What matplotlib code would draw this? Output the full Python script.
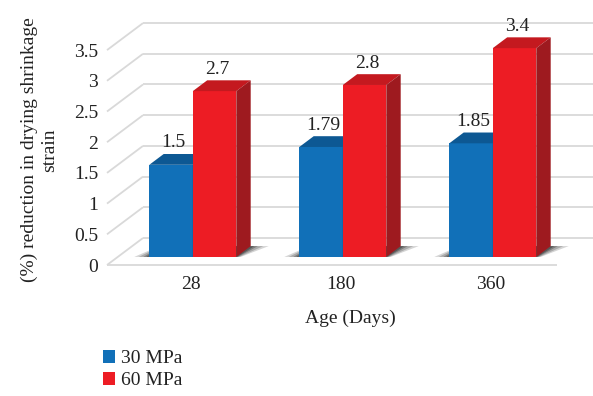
import matplotlib
matplotlib.use('Agg')
import matplotlib.pyplot as plt
from matplotlib.patches import Polygon
import numpy as np

# ---- data ----
ages = ['28', '180', '360']
series_names = ['30 MPa', '60 MPa']
mpa30 = [1.5, 1.79, 1.85]
mpa60 = [2.7, 2.8, 3.4]
yticks = [0, 0.5, 1, 1.5, 2, 2.5, 3, 3.5]
ytick_labels = ['0', '0.5', '1', '1.5', '2', '2.5', '3', '3.5']

plt.rcParams['font.family'] = ['Liberation Serif', 'DejaVu Serif']
FS = 14

W, H = 593, 396
fig = plt.figure(figsize=(W / 100, H / 100), dpi=100)
px_unit = 61.4                      # pixels per value unit
ax = fig.add_axes([107 / W, (H - 265) / H, 450 / W, 3.5 * px_unit / H])
ax.set_xlim(-0.5, 2.5)
ax.set_ylim(0, 3.5)
for s in ax.spines.values():
    s.set_visible(False)

# oblique projection of the full floor depth, in data units
DX = 36 / 150
DY = 27 / px_unit

grid_kw = dict(color='#d9d9d9', lw=1.3, clip_on=False, zorder=1,
               solid_capstyle='butt')
for v in yticks:
    ax.plot([-0.5, -0.5 + DX], [v, v + DY], **grid_kw)          # side wall
    ax.plot([-0.5 + DX, 2.5 + DX], [v + DY, v + DY], **grid_kw)  # back wall
ax.plot([-0.5, 2.5], [0, 0], **grid_kw)                        # floor edge

# bars occupy the middle of the depth
d_front, d_back = 0.3, 0.7
bw = 0.29
ox, oy = DX * d_front, DY * d_front
ddx, ddy = DX * (d_back - d_front), DY * (d_back - d_front)

x = np.arange(len(ages))
styles = [
    dict(front='#1170b8', top='#0d5893', side='#0b4a7c'),
    dict(front='#ed1c24', top='#c4191f', side='#9e1a1f'),
]

# soft floor shadows under each pair of bars
for xi in x:
    xl = xi - bw + ox
    xr = xi + bw + ox
    for e, a in [(0.10, 0.2), (0.07, 0.25), (0.04, 0.35), (0.02, 0.45)]:
        poly = Polygon([(xl - e, oy), (xr + e * 0.3, oy),
                        (xr + ddx + e * 1.2, oy + ddy), (xl + ddx - e * 0.3, oy + ddy)],
                       closed=True, facecolor='#2a2a2a', edgecolor='none',
                       alpha=a, zorder=2, clip_on=False)
        ax.add_patch(poly)

handles = []
for k, (vals, st, name) in enumerate(zip([mpa30, mpa60], styles, series_names)):
    x0 = x - bw + k * bw + ox
    z = 3 + k
    bars = ax.bar(x0, vals, width=bw, bottom=oy, align='edge',
                  color=st['front'], zorder=z, clip_on=False, label=name,
                  linewidth=0)
    handles.append(bars)
    for xb, v in zip(x0, vals):
        top = oy + v
        ax.add_patch(Polygon([(xb, top), (xb + bw, top),
                              (xb + bw + ddx, top + ddy), (xb + ddx, top + ddy)],
                             closed=True, facecolor=st['top'], edgecolor='none',
                             zorder=z, clip_on=False))
        ax.add_patch(Polygon([(xb + bw, oy), (xb + bw + ddx, oy + ddy),
                              (xb + bw + ddx, top + ddy), (xb + bw, top)],
                             closed=True, facecolor=st['side'], edgecolor='none',
                             zorder=z, clip_on=False))
        ax.text(xb + bw / 2 + 0.017, top + ddy + 11 / px_unit, f'{v:g}',
                ha='center', va='center', fontsize=FS, color='#222222',
                zorder=6, clip_on=False)

ax.set_yticks(yticks, ytick_labels)
ax.set_xticks(x + 0.06, ages)
ax.tick_params(axis='y', length=0, pad=6.5, labelsize=FS, colors='#222222')
ax.tick_params(axis='x', length=0, pad=8, labelsize=FS, colors='#222222')

ax.set_xlabel('Age (Days)', fontsize=FS, color='#222222')
ax.xaxis.label.set_va('center')
ax.xaxis.set_label_coords((350 - 107) / 450, -(318 - 265) / 215)

ax.set_ylabel('(%) reduction in drying shrinkage\nstrain', fontsize=FS,
              color='#222222', linespacing=1.25)
ax.yaxis.label.set_va('center')
ax.yaxis.set_label_coords((39.5 - 107) / 450, (265 - 150) / 215)

ax.legend(handles, series_names, loc='upper left',
          bbox_to_anchor=(103 / W, 1 - 350 / H), bbox_transform=fig.transFigure,
          frameon=False, fontsize=FS, handlelength=0.62, handleheight=0.62,
          handletextpad=0.3, labelspacing=0.25, borderpad=0, borderaxespad=0,
          labelcolor='#222222')

fig.savefig('out.png', dpi=100)
